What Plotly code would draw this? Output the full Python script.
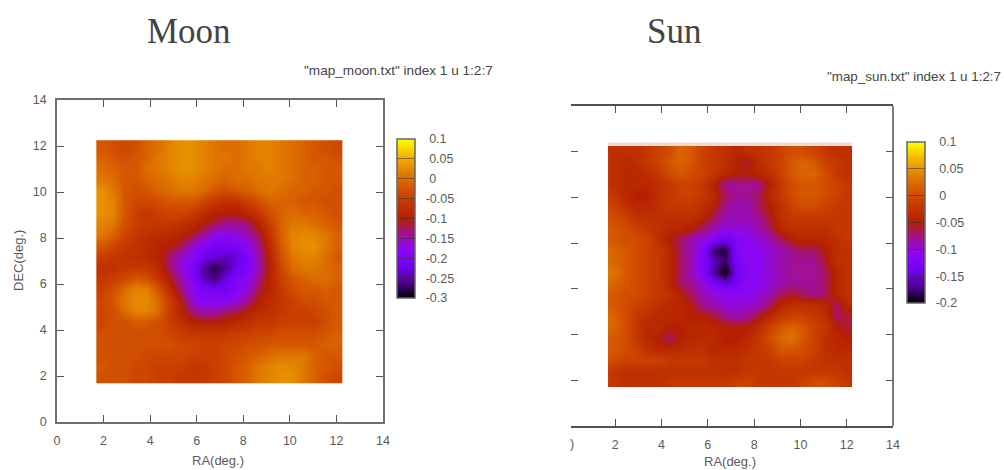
import plotly.graph_objects as go

W, H = 1004, 470

ra = [1.93,2.41,2.89,3.37,3.85,4.33,4.81,5.29,5.77,6.25,6.73,7.21,7.69,8.17,8.65,9.13,9.61,10.09,10.57,11.05,11.53,12.01]
dec = [12.01,11.53,11.05,10.57,10.09,9.61,9.13,8.65,8.17,7.69,7.21,6.73,6.25,5.77,5.29,4.81,4.33,3.85,3.37,2.89,2.41,1.93]

moon_z = [
[-.02,-.03,-.04,-.03,-.01,0,.02,.03,.03,.02,.01,0,0,.01,.02,.02,.01,0,-.01,-.02,-.03,-.04],
[-.01,-.02,-.03,-.02,-.01,.01,.02,.03,.03,.02,.01,.01,0,.01,.02,.02,.01,0,-.01,-.02,-.02,-.03],
[0,-.01,-.02,-.02,0,.01,.02,.03,.03,.02,.01,0,0,.01,.01,.02,.01,0,-.01,-.01,-.02,-.02],
[.01,0,-.02,-.02,-.01,0,.01,.02,.02,.01,0,-.01,0,0,.01,.01,.01,0,-.01,-.01,-.02,-.02],
[.03,.01,-.02,-.03,-.02,-.01,0,.01,.01,0,-.02,-.03,-.02,-.01,0,.01,0,-.01,-.01,-.02,-.02,-.03],
[.03,.02,-.02,-.04,-.04,-.03,-.02,-.02,-.02,-.04,-.06,-.07,-.07,-.05,-.03,-.01,-.01,-.01,-.02,-.02,-.03,-.03],
[.03,.02,-.02,-.05,-.06,-.05,-.04,-.04,-.05,-.07,-.09,-.10,-.10,-.08,-.06,-.03,-.01,0,-.01,-.01,-.02,-.03],
[.02,.01,-.03,-.05,-.06,-.06,-.06,-.07,-.08,-.10,-.12,-.14,-.14,-.13,-.09,-.05,-.01,.01,.01,0,-.01,-.02],
[.01,-.01,-.04,-.06,-.07,-.08,-.08,-.09,-.11,-.14,-.17,-.18,-.17,-.15,-.12,-.07,-.01,.02,.025,.02,.01,-.01],
[-.02,-.04,-.06,-.07,-.08,-.09,-.10,-.12,-.16,-.19,-.21,-.21,-.20,-.18,-.14,-.08,-.02,.02,.03,.03,.01,-.01],
[-.05,-.06,-.07,-.07,-.08,-.09,-.13,-.16,-.18,-.21,-.23,-.24,-.23,-.20,-.15,-.09,-.03,.01,.02,.02,0,-.02],
[-.07,-.07,-.06,-.06,-.06,-.08,-.13,-.17,-.20,-.25,-.28,-.26,-.22,-.20,-.15,-.10,-.04,0,.01,.01,0,-.01],
[-.06,-.05,-.04,-.02,-.03,-.06,-.10,-.15,-.19,-.24,-.27,-.23,-.20,-.18,-.14,-.09,-.05,-.02,-.01,0,0,-.01],
[-.05,-.03,0,.02,.02,-.02,-.08,-.13,-.18,-.20,-.21,-.21,-.19,-.17,-.12,-.09,-.06,-.03,-.02,-.02,-.01,-.02],
[-.04,-.02,.01,.025,.025,0,-.05,-.10,-.16,-.19,-.19,-.19,-.17,-.14,-.10,-.08,-.06,-.05,-.03,-.03,-.02,-.02],
[-.04,-.03,0,.02,.02,0,-.05,-.09,-.13,-.15,-.15,-.13,-.12,-.10,-.08,-.07,-.06,-.05,-.05,-.04,-.03,-.02],
[-.04,-.03,-.03,-.02,-.02,-.03,-.05,-.07,-.09,-.10,-.10,-.09,-.08,-.07,-.06,-.06,-.05,-.05,-.05,-.05,-.03,-.02],
[-.03,-.03,-.03,-.03,-.03,-.03,-.04,-.05,-.06,-.06,-.06,-.06,-.05,-.05,-.04,-.04,-.03,-.03,-.03,-.03,-.02,-.01],
[-.03,-.03,-.03,-.03,-.03,-.03,-.03,-.04,-.04,-.05,-.05,-.04,-.04,-.03,-.03,-.02,-.02,-.02,-.02,-.02,-.01,-.01],
[-.03,-.03,-.03,-.03,-.04,-.04,-.04,-.04,-.05,-.05,-.05,-.04,-.03,-.02,-.01,0,.01,.01,.01,-.01,-.02,-.02],
[-.02,-.03,-.03,-.04,-.04,-.05,-.05,-.05,-.06,-.06,-.05,-.04,-.02,-.01,.01,.02,.025,.025,.01,-.01,-.02,-.03],
[-.03,-.03,-.03,-.04,-.04,-.05,-.05,-.06,-.06,-.06,-.05,-.04,-.02,-.01,.01,.02,.03,.03,.01,-.01,-.03,-.04],
]

sun_z = [
[-.03,-.03,-.03,-.02,-.01,0,.02,.01,-.01,-.02,-.03,-.04,-.03,-.03,-.02,-.01,0,0,-.01,-.02,-.03,-.03],
[-.03,-.04,-.03,-.02,-.01,.01,.02,.01,-.01,-.02,-.03,-.05,-.06,-.03,-.02,-.01,.01,.02,.01,-.01,-.02,-.03],
[-.03,-.04,-.04,-.03,-.02,0,.01,0,-.01,-.02,-.04,-.05,-.05,-.04,-.03,-.01,.01,.02,.02,0,-.02,-.03],
[-.03,-.04,-.04,-.04,-.03,-.02,-.01,-.01,-.02,-.05,-.08,-.08,-.08,-.08,-.05,-.02,0,.01,.01,0,-.01,-.02],
[-.02,-.04,-.05,-.05,-.03,-.02,-.01,-.01,-.02,-.04,-.07,-.08,-.08,-.07,-.04,-.02,0,.01,.01,0,-.01,-.02],
[-.01,-.03,-.04,-.04,-.03,-.02,-.02,-.02,-.03,-.05,-.08,-.09,-.09,-.07,-.05,-.03,-.01,0,0,-.01,-.02,-.02],
[0,-.01,-.03,-.03,-.03,-.03,-.03,-.03,-.04,-.07,-.09,-.09,-.09,-.08,-.06,-.03,-.02,-.02,-.02,-.02,-.02,-.02],
[.01,0,-.01,-.02,-.03,-.04,-.04,-.05,-.07,-.09,-.10,-.10,-.10,-.09,-.07,-.04,-.03,-.03,-.03,-.03,-.02,-.02],
[.01,0,0,-.01,-.03,-.05,-.07,-.09,-.10,-.12,-.14,-.12,-.11,-.10,-.09,-.07,-.05,-.04,-.04,-.04,-.03,-.02],
[.02,.01,0,-.01,-.02,-.04,-.07,-.09,-.12,-.18,-.19,-.12,-.11,-.11,-.10,-.09,-.08,-.07,-.07,-.05,-.03,-.03],
[.02,.01,0,-.01,-.02,-.04,-.07,-.09,-.12,-.16,-.18,-.13,-.11,-.11,-.10,-.09,-.08,-.08,-.08,-.06,-.03,-.03],
[.03,.01,0,-.01,-.02,-.04,-.07,-.09,-.12,-.17,-.20,-.14,-.12,-.11,-.10,-.09,-.08,-.08,-.08,-.07,-.04,-.03],
[.02,.01,0,-.01,-.02,-.04,-.07,-.08,-.10,-.13,-.15,-.13,-.11,-.11,-.10,-.09,-.08,-.08,-.08,-.07,-.04,-.03],
[.01,0,0,-.01,-.02,-.03,-.05,-.07,-.09,-.10,-.11,-.11,-.11,-.10,-.09,-.07,-.06,-.07,-.08,-.07,-.04,-.03],
[.01,0,-.01,-.02,-.03,-.04,-.04,-.05,-.08,-.09,-.10,-.10,-.10,-.09,-.07,-.04,-.03,-.03,-.03,-.04,-.07,-.04],
[.02,0,-.02,-.03,-.04,-.04,-.04,-.05,-.05,-.06,-.08,-.09,-.08,-.06,-.04,-.02,-.01,-.01,-.02,-.03,-.07,-.06],
[.02,0,-.02,-.04,-.04,-.05,-.05,-.04,-.04,-.04,-.05,-.05,-.05,-.03,-.01,.01,.02,.01,-.01,-.02,-.05,-.06],
[.01,0,-.02,-.04,-.05,-.07,-.05,-.04,-.04,-.04,-.05,-.05,-.04,-.02,0,.02,.03,.01,-.01,-.03,-.04,-.05],
[.01,0,-.01,-.03,-.04,-.04,-.04,-.03,-.03,-.04,-.04,-.04,-.03,-.02,-.01,.01,.01,0,-.01,-.03,-.04,-.04],
[0,-.01,-.01,-.01,-.01,-.02,-.02,-.02,-.02,-.03,-.03,-.03,-.02,-.02,-.02,-.01,-.01,-.01,-.02,-.03,-.03,-.03],
[-.02,-.03,-.03,-.03,-.03,-.03,-.03,-.03,-.03,-.03,-.03,-.03,-.02,-.02,-.02,-.02,-.02,-.02,-.02,-.02,-.02,-.03],
[-.02,-.03,-.03,-.03,-.03,-.02,-.02,-.02,-.02,-.02,-.02,-.01,-.01,-.02,-.02,-.02,-.02,-.01,0,0,-.01,-.02],
]

axis_ticks = [0, 2, 4, 6, 8, 10, 12, 14]
moon_cb_vals = [0.1, 0.05, 0, -0.05, -0.1, -0.15, -0.2, -0.25, -0.3]
moon_cb_text = ["0.1", "0.05", "0", "-0.05", "-0.1", "-0.15", "-0.2", "-0.25", "-0.3"]
sun_cb_vals = [0.1, 0.05, 0, -0.05, -0.1, -0.15, -0.2]
sun_cb_text = ["0.1", "0.05", "0", "-0.05", "-0.1", "-0.15", "-0.2"]

palette = [
    [0.0, "rgb(0,0,0)"], [0.1, "rgb(81,0,150)"], [0.2, "rgb(113,2,243)"],
    [0.3, "rgb(139,7,243)"], [0.4, "rgb(161,16,150)"], [0.5, "rgb(180,32,0)"],
    [0.6, "rgb(197,55,0)"], [0.7, "rgb(213,87,0)"], [0.8, "rgb(228,131,0)"],
    [0.9, "rgb(242,186,0)"], [1.0, "rgb(255,255,0)"],
]

TXT = "#5a5a5a"
SPINE = "#707070"
FONT = "Liberation Sans"
SIZE = 12.5


def px_x(v):
    return v / W


def px_y(v):
    return 1 - v / H


def pad_label(t):
    return ("\u00a0\u00a0" if t.startswith("-") else "\u00a0\u00a0\u00a0") + t


def colorbar(x_px, top_px, bottom_px, vals, text):
    return dict(
        x=px_x(x_px), xanchor="left", xref="paper",
        y=px_y(top_px), yanchor="top", yref="paper",
        xpad=0, ypad=0,
        lenmode="pixels", len=bottom_px - top_px,
        thicknessmode="pixels", thickness=18,
        outlinecolor="#666666", outlinewidth=1.5,
        tickmode="array", tickvals=vals, ticktext=[pad_label(t) for t in text],
        ticks="inside", ticklen=18, tickwidth=1, tickcolor="rgba(50,50,50,0.55)",
        tickfont=dict(family=FONT, size=SIZE, color=TXT),
    )


fig = go.Figure()
fig.add_trace(go.Heatmap(
    x=ra, y=dec, z=moon_z, zmin=-0.3, zmax=0.1, zsmooth="best",
    colorscale=palette, xaxis="x", yaxis="y",
    colorbar=colorbar(397, 139, 298, moon_cb_vals, moon_cb_text),
))
fig.add_trace(go.Heatmap(
    x=ra, y=dec, z=sun_z, zmin=-0.2, zmax=0.1, zsmooth="best",
    colorscale=palette, xaxis="x2", yaxis="y2",
    colorbar=colorbar(907, 142, 303, sun_cb_vals, sun_cb_text),
))

common = dict(
    tickmode="array", tickvals=axis_ticks, ticks="inside", ticklen=7, tickwidth=1,
    tickcolor="#555555", showgrid=False, zeroline=False, automargin=False,
    ticklabelstandoff=6,
    tickfont=dict(family=FONT, size=SIZE, color=TXT),
)

fig.update_layout(
    width=W, height=H, margin=dict(l=0, r=0, t=0, b=0, autoexpand=False),
    paper_bgcolor="white", plot_bgcolor="white", showlegend=False,
    xaxis=dict(domain=[px_x(57), px_x(383)], range=[0, 14], showline=True, linecolor=SPINE,
               linewidth=1.5, mirror="ticks", anchor="y", **common),
    yaxis=dict(domain=[px_y(422), px_y(100)], range=[0, 14], showline=True, linecolor=SPINE,
               linewidth=1.5, mirror="ticks", anchor="x", **common),
    xaxis2=dict(domain=[px_x(571), px_x(893)], range=[0.09, 14], showline=True, linecolor="#505050",
                linewidth=1.5, mirror="ticks", anchor="y2", **common),
    yaxis2=dict(domain=[px_y(426), px_y(106)], range=[0, 14], showline=False,
                mirror="ticks", anchor="x2", showticklabels=False, **common),
)

fig.add_shape(type="line", xref="x2 domain", yref="y2 domain", x0=1, x1=1, y0=0, y1=1,
              line=dict(color="#505050", width=1.5))
fig.add_shape(type="rect", xref="x2", yref="y2", x0=ra[0] - 0.24, x1=ra[-1] + 0.24, y0=12.25, y1=12.4,
              line=dict(width=0), fillcolor="#f8dccb")

for text, xp, yp, size, fam, anchor, col, rot in [
    ("Moon", 189, 31, 35, "Liberation Serif", "center", "#444444", 0),
    ("Sun", 674, 31, 35, "Liberation Serif", "center", "#444444", 0),
    ('"map_moon.txt" index 1 u 1:2:7', 495, 71, 13.6, FONT, "right", "#444444", 0),
    ('"map_sun.txt" index 1 u 1:2:7', 1003, 77, 13.4, FONT, "right", "#444444", 0),
    (")", 572, 444, SIZE, FONT, "center", TXT, 0),
    ("RA(deg.)", 218, 460, 13, FONT, "center", TXT, 0),
    ("RA(deg.)", 730, 461.5, 13, FONT, "center", TXT, 0),
    ("DEC(deg.)", 18, 261, 13, FONT, "center", TXT, -90),
]:
    fig.add_annotation(text=text, xref="paper", yref="paper", x=px_x(xp), y=px_y(yp),
                       xanchor=anchor, yanchor="middle", showarrow=False, textangle=rot,
                       font=dict(family=fam, size=size, color=col))

fig.write_html("out.html", config=dict(displayModeBar=False),
               post_script="document.body.style.margin='0';document.documentElement.style.overflow='hidden';")
